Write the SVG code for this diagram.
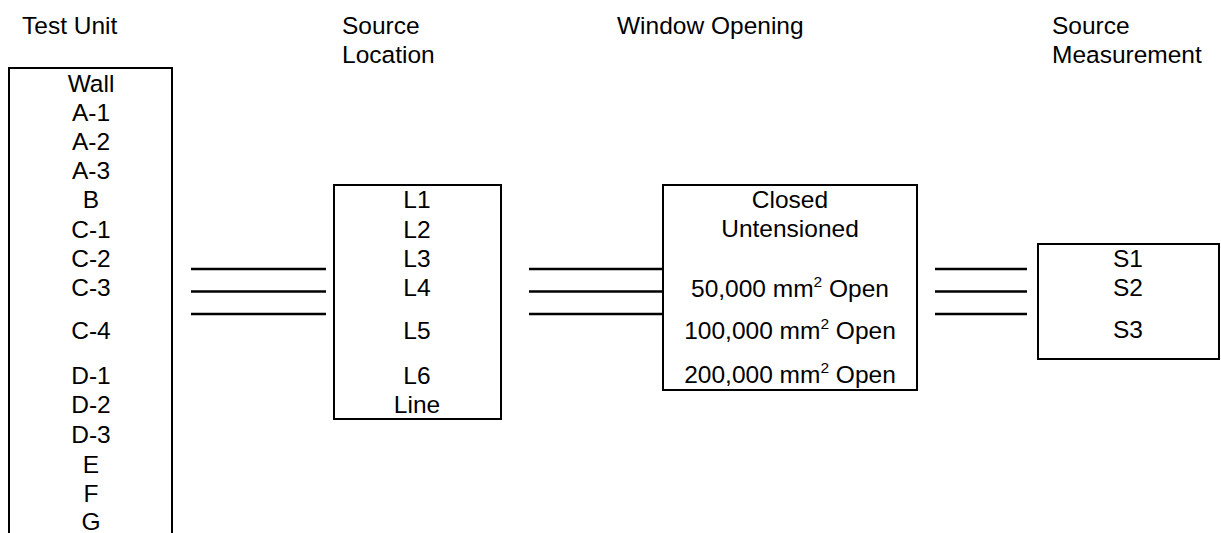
<svg xmlns="http://www.w3.org/2000/svg" width="1221" height="533" viewBox="0 0 1221 533">
  <style>
    text { font-family: "Liberation Sans", Arial, sans-serif; font-size: 24.5px; fill: #000; }
    .c { text-anchor: middle; }
    .box { fill: #fff; stroke: #000; stroke-width: 2; }
    .link { stroke: #000; stroke-width: 2.5; fill: none; }
    .sup { font-size: 15.5px; }
  </style>
  <rect width="1221" height="533" fill="#fff"/>

  <!-- column headings -->
  <g id="headings">
    <text x="22" y="34">Test Unit</text>
    <text x="342" y="34">Source</text>
    <text x="342" y="63">Location</text>
    <text x="617" y="34">Window Opening</text>
    <text x="1052" y="34">Source</text>
    <text x="1052" y="63">Measurement</text>
  </g>

  <!-- connectors between columns -->
  <g id="connectors">
    <line class="link" x1="191" y1="269" x2="326" y2="269"/>
    <line class="link" x1="191" y1="291.5" x2="326" y2="291.5"/>
    <line class="link" x1="191" y1="314" x2="326" y2="314"/>
    <line class="link" x1="529" y1="269" x2="664" y2="269"/>
    <line class="link" x1="529" y1="291.5" x2="664" y2="291.5"/>
    <line class="link" x1="529" y1="314" x2="664" y2="314"/>
    <line class="link" x1="935" y1="269" x2="1027" y2="269"/>
    <line class="link" x1="935" y1="291.5" x2="1027" y2="291.5"/>
    <line class="link" x1="935" y1="314" x2="1027" y2="314"/>
  </g>

  <!-- test units -->
  <g id="test-unit">
    <rect class="box" x="9" y="68" width="163" height="480"/>
    <text class="c" x="91" y="92">Wall</text>
    <text class="c" x="91" y="121">A-1</text>
    <text class="c" x="91" y="150">A-2</text>
    <text class="c" x="91" y="179">A-3</text>
    <text class="c" x="91" y="208">B</text>
    <text class="c" x="91" y="237.5">C-1</text>
    <text class="c" x="91" y="266.5">C-2</text>
    <text class="c" x="91" y="295.5">C-3</text>
    <text class="c" x="91" y="339">C-4</text>
    <text class="c" x="91" y="384">D-1</text>
    <text class="c" x="91" y="413">D-2</text>
    <text class="c" x="91" y="443">D-3</text>
    <text class="c" x="91" y="472.5">E</text>
    <text class="c" x="91" y="501.5">F</text>
    <text class="c" x="91" y="530">G</text>
  </g>

  <!-- source locations -->
  <g id="source-location">
    <rect class="box" x="334" y="185" width="167" height="234"/>
    <text class="c" x="417" y="208">L1</text>
    <text class="c" x="417" y="237.5">L2</text>
    <text class="c" x="417" y="266.5">L3</text>
    <text class="c" x="417" y="295.5">L4</text>
    <text class="c" x="417" y="339">L5</text>
    <text class="c" x="417" y="384">L6</text>
    <text class="c" x="417" y="413">Line</text>
  </g>

  <!-- window opening states -->
  <g id="window-opening">
    <rect class="box" x="663" y="185" width="254" height="205"/>
    <text class="c" x="790" y="208">Closed</text>
    <text class="c" x="790" y="237">Untensioned</text>
    <text class="c" x="790" y="297">50,000 mm<tspan class="sup" dy="-10">2</tspan><tspan dy="10"> Open</tspan></text>
    <text class="c" x="790" y="339">100,000 mm<tspan class="sup" dy="-10">2</tspan><tspan dy="10"> Open</tspan></text>
    <text class="c" x="790" y="383">200,000 mm<tspan class="sup" dy="-10">2</tspan><tspan dy="10"> Open</tspan></text>
  </g>

  <!-- source measurements -->
  <g id="source-measurement">
    <rect class="box" x="1038" y="244" width="181" height="115"/>
    <text class="c" x="1128" y="267">S1</text>
    <text class="c" x="1128" y="295.5">S2</text>
    <text class="c" x="1128" y="338">S3</text>
  </g>
</svg>
